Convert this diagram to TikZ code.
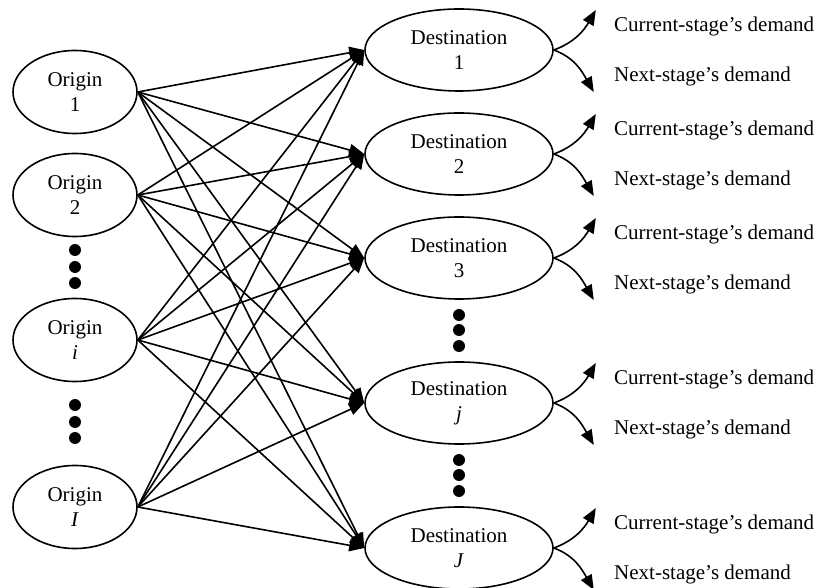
\documentclass[tikz,border=0pt]{standalone}
\usepackage{fontspec}
\setmainfont{Liberation Serif}
\usetikzlibrary{shapes.geometric,arrows.meta}
\begin{document}
\begin{tikzpicture}[x=0.5pt,y=0.5pt,
		font=\fontsize{10.5}{12.5}\selectfont,
		orig/.style={draw,ellipse,line width=0.8pt,inner sep=0pt,minimum width=62pt,minimum height=41.5pt,align=center},
		dest/.style={orig,minimum width=94pt,minimum height=41pt},
		route/.style={line width=0.8pt,-{Triangle[length=7.5pt,width=6pt]}},
		demlabel/.style={anchor=west,inner sep=0pt}]
	\useasboundingbox (0,0) rectangle (820,-588);
	\node[orig] (o1) at (75,-92) {Origin\\1};
	\node[orig] (o2) at (75,-195) {Origin\\2};
	\node[orig] (oi) at (75,-340) {Origin\\\textit{i}};
	\node[orig] (oI) at (75,-507) {Origin\\\textit{I}};
	\node[dest] (d1) at (459,-50) {Destination\\1};
	\node[dest] (d2) at (459,-154) {Destination\\2};
	\node[dest] (d3) at (459,-258) {Destination\\3};
	\node[dest] (dj) at (459,-403) {Destination\\\textit{j}};
	\node[dest] (dJ) at (459,-548) {Destination\\\textit{J}};
	\foreach \o in {o1,o2,oi,oI}
		\foreach \d in {d1,d2,d3,dj,dJ}
			\draw[route] (\o.east) -- (\d.west);
	\foreach \d in {d1,d2,d3,dj,dJ} {
		\coordinate (\d up) at ([shift={(42,40)}]\d.east);
		\coordinate (\d dn) at ([shift={(40,-42)}]\d.east);
		\draw[route] (\d.east) to[out=20,in=-120] (\d up);
		\draw[route] (\d.east) to[out=-20,in=120] (\d dn);
		\node[demlabel] (\d cur) at ([shift={(60,24)}]\d.east) {Current-stage’s demand};
		\node[demlabel] (\d nxt) at ([shift={(60,-26)}]\d.east) {Next-stage’s demand};
	}
	\foreach \y in {250,267,283,405,422,438}
		\fill (75,-\y) circle (3pt);
	\foreach \y in {315,330,346,460,475,491}
		\fill (459,-\y) circle (3pt);
\end{tikzpicture}
\end{document}
